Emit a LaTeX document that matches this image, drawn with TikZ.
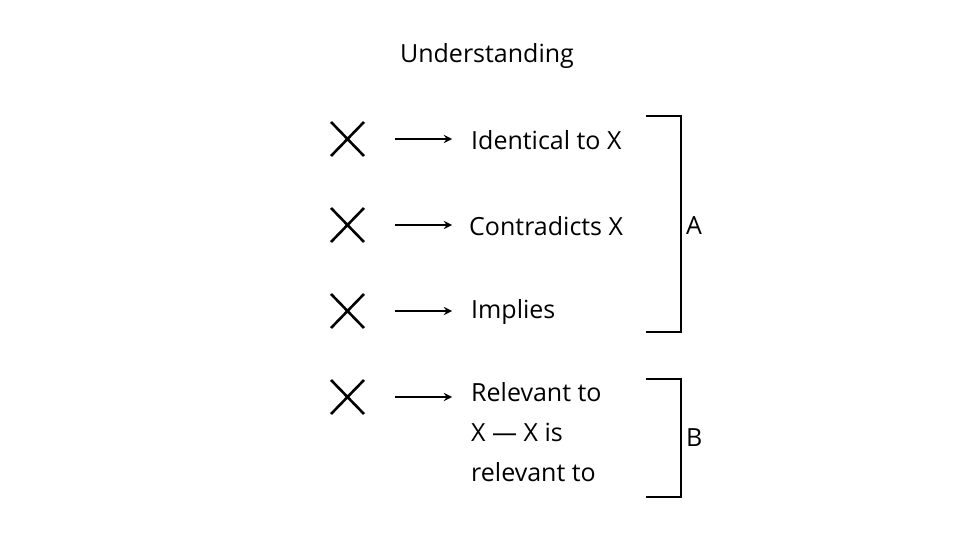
\documentclass[tikz,border=0pt]{standalone}
\usepackage{fontspec}
\setmainfont{Open Sans}
\begin{document}
\begin{tikzpicture}[x=1pt,y=-1pt,
  txt/.style={font=\fontsize{25}{40}\selectfont, anchor=west, inner sep=0pt},
  cross/.style={line width=2.6pt},
  arr/.style={line width=2.6pt,-stealth},
  brk/.style={line width=2.6pt}]
\useasboundingbox (0,0) rectangle (975,548);
\node[txt,anchor=center] (title) at (487,56) {Understanding};
\foreach \y/\n in {139/a,225/b,311/c,397/d}{
  \draw[cross] (331,\y-17) -- (364,\y+17) (331,\y+17) -- (364,\y-17);
  \coordinate (s\n) at (395,\y);
  \coordinate (e\n) at (452,\y);
  \draw[arr] (s\n) -- (e\n);
}
\node[txt] (t1) at (471,140) {Identical to X};
\node[txt] (t2) at (469,226) {Contradicts X};
\node[txt] (t3) at (471,312) {Implies};
\node[txt,align=left,anchor=north west] (t4) at (471,382) {Relevant to\\X — X is\\relevant to};
\draw[brk] (646,116) -- (681,116) -- (681,332) -- (646,332);
\draw[brk] (646,379) -- (681,379) -- (681,497) -- (646,497);
\node[txt] (A) at (686,226) {A};
\node[txt] (B) at (686,438) {B};
\end{tikzpicture}
\end{document}
